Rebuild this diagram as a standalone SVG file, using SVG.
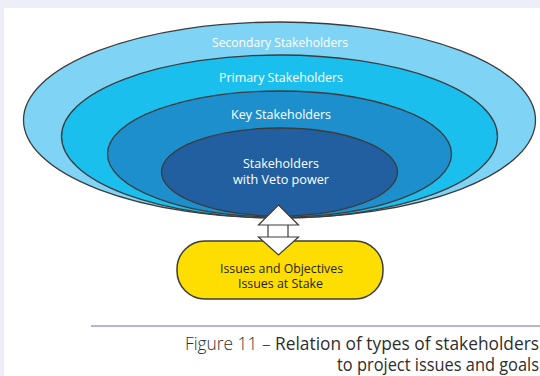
<svg xmlns="http://www.w3.org/2000/svg" width="540" height="376" viewBox="0 0 540 376">
  <style>
    .ring { stroke: #3c3c3c; stroke-width: 1.3; }
    .lbl { font-family: "Open Sans", "Noto Sans", sans-serif; font-size: 13.5px; fill: #ffffff; text-anchor: middle; }
    .dark { fill: #1e1e1e; font-size: 13px; }
    .arrow { fill: #ffffff; stroke: #3c3c3c; stroke-width: 1.2; stroke-linejoin: miter; }
    .cap { font-family: "Open Sans", "Noto Sans", sans-serif; font-size: 18.5px; fill: #2e2e2e; text-anchor: end; }
  </style>

  <!-- page background and white panel -->
  <rect x="0" y="0" width="540" height="376" fill="#eeeef8"/>
  <rect x="4" y="8" width="536" height="368" fill="#ffffff"/>

  <!-- nested stakeholder rings -->
  <g id="secondary">
    <ellipse class="ring" cx="279.5" cy="120" rx="256" ry="98" fill="#7fd3f4"/>
    <text class="lbl" x="280" y="47" textLength="136" lengthAdjust="spacingAndGlyphs">Secondary Stakeholders</text>
  </g>
  <g id="primary">
    <ellipse class="ring" cx="279.5" cy="136.5" rx="218" ry="81.5" fill="#1bbfee"/>
    <text class="lbl" x="281" y="82" textLength="124" lengthAdjust="spacingAndGlyphs">Primary Stakeholders</text>
  </g>
  <g id="key">
    <ellipse class="ring" cx="279.5" cy="154" rx="172" ry="63" fill="#1e8fcd"/>
    <text class="lbl" x="281" y="119" textLength="100" lengthAdjust="spacingAndGlyphs">Key Stakeholders</text>
  </g>
  <g id="veto">
    <ellipse class="ring" cx="279.5" cy="172" rx="118" ry="44" fill="#215fa0"/>
    <text class="lbl" lengthAdjust="spacingAndGlyphs"><tspan x="281" y="168" textLength="76" lengthAdjust="spacingAndGlyphs">Stakeholders</tspan><tspan x="281" y="184" textLength="96" lengthAdjust="spacingAndGlyphs">with Veto power</tspan></text>
  </g>

  <!-- issues box -->
  <g id="issues">
    <rect x="177" y="241" width="206" height="58" rx="28" ry="28" fill="#fedd00" stroke="#3c3c3c" stroke-width="1.5"/>
    <text class="lbl dark"><tspan x="281.5" y="273" textLength="123" lengthAdjust="spacingAndGlyphs">Issues and Objectives</tspan><tspan x="280.5" y="288" textLength="85" lengthAdjust="spacingAndGlyphs">Issues at Stake</tspan></text>
  </g>

  <!-- two-way block arrow -->
  <g id="connectors">
    <path class="arrow" d="M268,224.5 V237.5 H288 V224.5 Z"/>
    <path class="arrow" d="M278.5,205 L298.5,225 H258.5 Z"/>
    <path class="arrow" d="M258.5,237 H298.5 L278.5,255 Z"/>
  </g>

  <!-- caption -->
  <g id="caption">
    <line x1="91" y1="326" x2="540" y2="326" stroke="#9c9cc8" stroke-width="1.6"/>
    <text class="cap"><tspan x="539" y="350" textLength="354" lengthAdjust="spacingAndGlyphs"><tspan font-weight="300">Figure 11 – </tspan>Relation of types of stakeholders</tspan><tspan x="539" y="371" textLength="202" lengthAdjust="spacingAndGlyphs">to project issues and goals</tspan></text>
  </g>
</svg>
